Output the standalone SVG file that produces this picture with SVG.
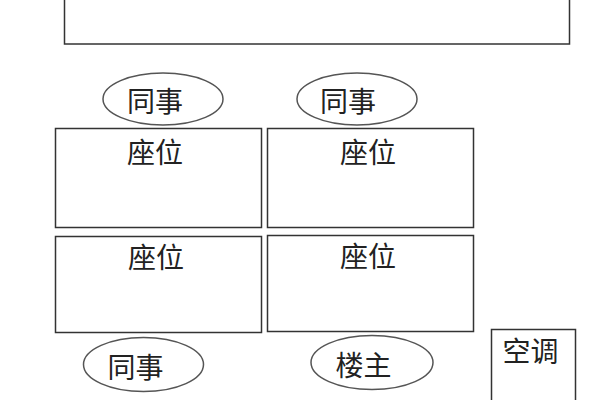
<svg xmlns="http://www.w3.org/2000/svg" width="600" height="400" viewBox="0 0 600 400">
<style>
.box{fill:#fff;stroke:#333;stroke-width:1.5}
.oval{fill:#fff;stroke:#555;stroke-width:1.5}
.t{font-family:"Noto Sans CJK SC","Noto Sans CJK JP",sans-serif;font-size:28px;fill:#222;text-anchor:middle;dominant-baseline:central}
</style>
<rect width="600" height="400" fill="#fff"/>
<g id="top-area"><rect class="box" x="64.5" y="-2" width="505" height="46"/></g>
<g id="seat1"><rect class="box" x="55.5" y="128.5" width="206" height="99"/><text class="t" x="155" y="151">座位</text></g>
<g id="seat2"><rect class="box" x="267.5" y="128.5" width="206" height="99"/><text class="t" x="368" y="151">座位</text></g>
<g id="seat3"><rect class="box" x="55.5" y="236.5" width="206" height="96"/><text class="t" x="156" y="256">座位</text></g>
<g id="seat4"><rect class="box" x="267.5" y="235.5" width="206" height="96"/><text class="t" x="368" y="255">座位</text></g>
<g id="colleague1"><ellipse class="oval" cx="163" cy="99" rx="60" ry="26"/><text class="t" x="155" y="100">同事</text></g>
<g id="colleague2"><ellipse class="oval" cx="357" cy="99" rx="60" ry="26"/><text class="t" x="348" y="100">同事</text></g>
<g id="colleague3"><ellipse class="oval" cx="143.5" cy="364.5" rx="60" ry="27"/><text class="t" x="135.5" y="366">同事</text></g>
<g id="op"><ellipse class="oval" cx="372" cy="362.5" rx="61" ry="27"/><text class="t" x="363.5" y="364">楼主</text></g>
<g id="aircon"><rect class="box" x="491.5" y="329.5" width="84" height="72"/><text class="t" x="530.5" y="350">空调</text></g>
<g id="connectors"></g>
</svg>
